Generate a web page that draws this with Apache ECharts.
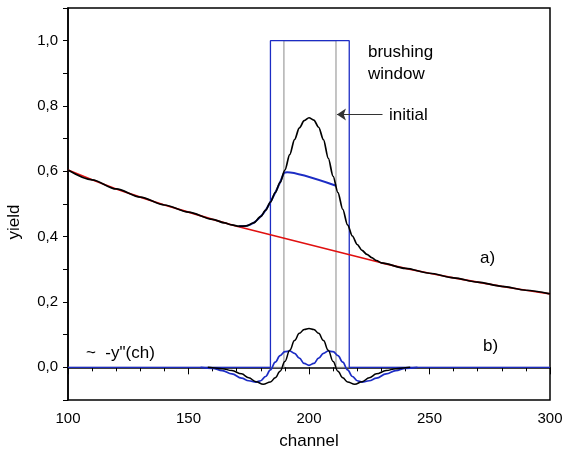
<!DOCTYPE html>
<html>
<head>
<meta charset="utf-8">
<script src="https://cdn.jsdelivr.net/npm/echarts@6/dist/echarts.min.js"></script>
<style>html,body{margin:0;padding:0;background:#fff}#c{width:573px;height:461px}</style>
</head>
<body>
<div id="c"></div>
<script>
// ---- data ----
const xTicks = [100, 150, 200, 250, 300];
const yTicks = [0.0, 0.2, 0.4, 0.6, 0.8, 1.0];

// a) measured spectrum (black)
const spectrumA = [[100,0.604],[110,0.574],[120,0.546],[130,0.521],[140,0.497],[150,0.475],[160,0.453],[165,0.442],[168,0.436],[171,0.432],[174,0.433],[177,0.442],[180,0.462],[182,0.481],[184,0.506],[186,0.535],[188,0.566],[190,0.604],[192,0.651],[194,0.697],[196,0.733],[198,0.755],[200,0.764],[202,0.757],[204,0.735],[206,0.697],[208,0.640],[210,0.585],[212,0.535],[214,0.484],[216,0.436],[218,0.402],[220,0.376],[222,0.358],[224,0.346],[226,0.336],[228,0.327],[230,0.320],[240,0.303],[250,0.288],[260,0.274],[270,0.261],[280,0.248],[290,0.236],[300,0.225]];

// background (red)
const background = [[100,0.604],[110,0.574],[120,0.546],[130,0.521],[140,0.497],[150,0.475],[160,0.453],[170,0.432],[230,0.320],[240,0.303],[250,0.288],[260,0.274],[270,0.261],[280,0.248],[290,0.236],[300,0.225]];

// brushed spectrum (blue)
const brushedA = [[171,0.432],[174,0.433],[177,0.442],[180,0.462],[182,0.481],[184,0.506],[186,0.535],[188,0.566],[189.6,0.594],[191,0.597],[211.2,0.556]];

// b) ~ -y''(ch)
const derivBlack = [[158,0],[160,-0.001],[164,-0.004],[168,-0.010],[172,-0.020],[175,-0.032],[178,-0.044],[181,-0.052],[184,-0.045],[186,-0.032],[188,-0.012],[190,0.018],[192,0.052],[194,0.082],[196,0.104],[198,0.116],[200,0.119],[202,0.116],[204,0.104],[206,0.082],[208,0.052],[210,0.018],[212,-0.012],[214,-0.032],[216,-0.045],[219,-0.052],[222,-0.044],[225,-0.032],[228,-0.020],[232,-0.010],[236,-0.004],[240,-0.001],[242,0]];
const derivBlue = [[155,0],[160,-0.003],[164,-0.010],[168,-0.020],[172,-0.033],[175,-0.041],[178,-0.045],[180,-0.041],[182,-0.028],[184,-0.008],[186,0.016],[188,0.036],[190,0.048],[192,0.050],[194,0.043],[196,0.028],[198,0.012],[200,0.006],[202,0.012],[204,0.028],[206,0.043],[208,0.050],[210,0.048],[212,0.036],[214,0.016],[216,-0.008],[218,-0.028],[220,-0.041],[222,-0.045],[225,-0.041],[228,-0.033],[232,-0.020],[236,-0.010],[240,-0.003],[245,0]];

// windows
const brushWinX = [100,184,184,216.7,216.7,300];
const brushWinY = [0,0,1,1,0,0];
const initWinX = [100,189.6,189.6,211.2,211.2,300];
const initWinY = [0,0,1,1,0,0];

// arrow pointing at initial window
const arrowFrom = [230.5, 0.774];
const arrowTo = [211.6, 0.774];

const BLUE = '#1c2cc4';
const FONT = "'Liberation Sans', Arial, sans-serif";

const zip = (xs, ys) => xs.map((x, i) => [x, ys[i]]);

const txt = (x, y, text, size) => ({type: 'text', x: x, y: y, z: 100,
  style: {text: text, fontFamily: FONT, fontSize: size || 17, fill: '#000', textAlign: 'left', textVerticalAlign: 'middle'}});

const chart = echarts.init(document.getElementById('c'), null, {renderer: 'canvas'});
chart.setOption({
  animation: false,
  backgroundColor: '#fff',
  grid: {left: 68, right: 23, top: 8, bottom: 61, show: true, borderColor: '#000', borderWidth: 1.5, backgroundColor: 'transparent'},
  xAxis: {
    type: 'value', min: xTicks[0], max: xTicks[xTicks.length - 1], interval: 50,
    name: 'channel', nameLocation: 'middle', nameGap: 33,
    nameTextStyle: {fontFamily: FONT, fontSize: 17, color: '#000'},
    axisLine: {show: true, lineStyle: {color: '#000', width: 1.5}},
    axisTick: {show: true, length: 7, inside: false, lineStyle: {color: '#000', width: 1}},
    minorTick: {show: true, splitNumber: 5, length: 4, lineStyle: {color: '#000', width: 1}},
    splitLine: {show: false},
    axisLabel: {margin: 11, fontFamily: FONT, fontSize: 15, color: '#000',
      formatter: v => xTicks.includes(v) ? String(v) : ''}
  },
  yAxis: {
    type: 'value', min: -0.1, max: 1.1, interval: 0.1,
    axisLine: {show: true, lineStyle: {color: '#000', width: 1.5}},
    axisTick: {show: true, length: 5, lineStyle: {color: '#000', width: 1}},
    splitLine: {show: false},
    axisLabel: {margin: 10, fontFamily: FONT, fontSize: 15, color: '#000',
      formatter: v => {
        const k = Math.round(v * 10);
        const match = yTicks.find(t => Math.round(t * 10) === k);
        return match === undefined ? '' : match.toFixed(1).replace('.', ',');
      }}
  },
  series: [
    {type: 'line', data: zip(initWinX, initWinY), showSymbol: false, symbol: 'none', z: 1,
      lineStyle: {color: '#8a8a8a', width: 1}},
    {type: 'line', data: zip(brushWinX, brushWinY), showSymbol: false, symbol: 'none', z: 2,
      lineStyle: {color: BLUE, width: 1.3}},
    {type: 'line', data: background, showSymbol: false, symbol: 'none', z: 3,
      lineStyle: {color: '#e01010', width: 1.7}},
    {type: 'line', data: brushedA, showSymbol: false, symbol: 'none', z: 4, smooth: 0.2,
      lineStyle: {color: BLUE, width: 2}},
    {type: 'line', data: spectrumA, showSymbol: false, symbol: 'none', z: 5, smooth: 0.3, smoothMonotone: 'x',
      lineStyle: {color: '#000', width: 1.7},
      markLine: {silent: true, symbol: ['none', 'arrow'], symbolSize: 9, animation: false,
        label: {show: false},
        lineStyle: {color: '#333', width: 1.2, type: 'solid'},
        data: [[{coord: arrowFrom}, {coord: arrowTo}]]}},
    {type: 'line', data: derivBlue, showSymbol: false, symbol: 'none', z: 6, smooth: 0.4, smoothMonotone: 'x',
      lineStyle: {color: BLUE, width: 1.7}},
    {type: 'line', data: derivBlack, showSymbol: false, symbol: 'none', z: 7, smooth: 0.4, smoothMonotone: 'x',
      lineStyle: {color: '#000', width: 1.5}}
  ],
  graphic: [
    txt(368, 52, 'brushing'),
    txt(368, 74, 'window'),
    txt(389, 115, 'initial'),
    txt(480, 258, 'a)'),
    txt(483, 346, 'b)'),
    txt(86, 353, '~  -y"(ch)'),
    {type: 'text', x: 14, y: 222, rotation: Math.PI / 2, z: 100,
      style: {text: 'yield', fontFamily: FONT, fontSize: 17, fill: '#000', textAlign: 'center', textVerticalAlign: 'middle'}}
  ]
});
</script>
</body>
</html>
